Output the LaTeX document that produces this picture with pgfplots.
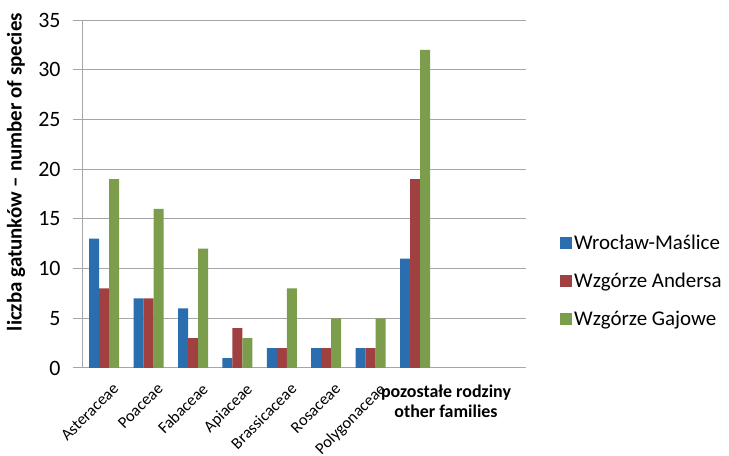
\documentclass[border=0pt]{standalone}
\usepackage{pgfplots}
\pgfplotsset{compat=1.18}
\usepackage{fontspec}
\setmainfont{Carlito}

\definecolor{serA}{RGB}{42,110,176}
\definecolor{serB}{RGB}{160,64,64}
\definecolor{serC}{RGB}{123,157,76}
\definecolor{gridgray}{RGB}{166,166,166}

\pgfplotstableread{
x  maslice andersa gajowe
0  13  8  19
1   7  7  16
2   6  3  12
3   1  4   3
4   2  2   8
5   2  2   5
6   2  2   5
7  11 19  32
}\species

\begin{document}
\begin{tikzpicture}
\path[use as bounding box] (0,0) rectangle (729bp,456bp);
\begin{axis}[
  at={(82bp,88bp)}, anchor=south west,
  scale only axis, width=444bp, height=348bp,
  ybar=0pt, bar width=10bp,
  xmin=-0.5, xmax=9.5,
  ymin=0, ymax=35,
  ytick={0,5,...,35},
  xtick={0,...,6},
  xticklabels={Asteraceae,Poaceae,Fabaceae,Apiaceae,Brassicaceae,Rosaceae,Polygonaceae},
  axis lines=left,
  axis line style={-, draw=gridgray, line width=1bp},
  ymajorgrids, grid style={draw=gridgray, line width=1bp},
  xtick style={draw=none},
  ytick style={draw=gridgray, line width=1bp},
  tick align=outside,
  major tick length=9bp,
  yticklabel style={font=\fontsize{22}{26}\selectfont, xshift=-9bp},
  xticklabel style={font=\fontsize{16.5}{20}\selectfont, rotate=45, anchor=north east, inner sep=0bp, xshift=2bp, yshift=-9bp},
  /pgf/number format/assume math mode=true,
  ylabel={\bfseries liczba gatunków – number of species},
  ylabel style={at={(axis description cs:-0.1486,0.563)}, anchor=center, font=\fontsize{21}{25}\selectfont},
  legend style={at={(1.0766,0.25)}, anchor=west, draw=none, fill=none,
    font=\fontsize{21}{25}\selectfont, row sep=18bp, inner sep=0pt,
    /tikz/every even column/.append style={column sep=4bp}},
  legend cell align=left,
  legend image code/.code={\fill[#1] (0bp,-5.5bp) rectangle (12bp,6.5bp);},
  clip=false,
]
\addplot[fill=serA, draw=none] table[x=x, y=maslice] {\species};
\addplot[fill=serB, draw=none] table[x=x, y=andersa] {\species};
\addplot[fill=serC, draw=none] table[x=x, y=gajowe] {\species};
\legend{Wrocław-Maślice, Wzgórze Andersa, Wzgórze Gajowe}
\node[anchor=north, align=center, inner sep=0pt, yshift=-17bp, xshift=31bp,
      font=\fontsize{18}{20}\selectfont\bfseries]
  at (axis cs:7,0) {pozostałe rodziny\\other families};
\end{axis}
\end{tikzpicture}
\end{document}
